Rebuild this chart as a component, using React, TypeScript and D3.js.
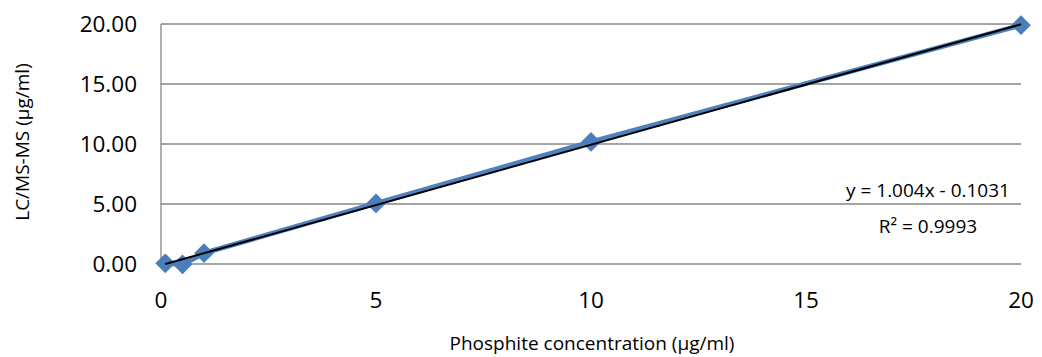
import React from "react";
import * as d3 from "d3";

// Calibration data: phosphite concentration vs LC/MS-MS measurement
const concentrations = [0.1, 0.5, 1, 5, 10, 20];
const measured = [0.06, -0.03, 0.9, 5.05, 10.17, 19.9];
const xTicks = [0, 5, 10, 15, 20];
const yTicks = [0, 5, 10, 15, 20];
const slope = 1.004;
const intercept = -0.1031;
const rSquared = "0.9993";

const W = 1042;
const H = 357;
const FONT = "'Open Sans', 'Noto Sans', sans-serif";

export default function App() {
  const x = d3.scaleLinear().domain([0, 20]).range([161, 1021]);
  const y = d3.scaleLinear().domain([0, 20]).range([264, 24]);

  const pts = concentrations.map((c, i) => [c, measured[i]] as [number, number]);
  const line = d3
    .line<[number, number]>()
    .x((d) => x(d[0]))
    .y((d) => y(d[1]));

  const xMin = d3.min(concentrations)!;
  const xMax = d3.max(concentrations)!;
  const trend: [number, number][] = [
    [xMin, slope * xMin + intercept],
    [xMax, slope * xMax + intercept],
  ];

  // diamond marker: a square turned by 45°
  const diamond = d3.symbol().type(d3.symbolSquare).size(196)();

  return (
    <svg
      width={W}
      height={H}
      style={{ position: "absolute", left: 0, top: 0, background: "#fff" }}
      fontFamily={FONT}
    >
      {/* horizontal gridlines */}
      {yTicks.map((t) => (
        <line
          key={"g" + t}
          x1={x(0)}
          x2={x(20)}
          y1={y(t)}
          y2={y(t)}
          stroke="#868686"
          strokeWidth={1.3}
        />
      ))}
      {/* vertical axis line */}
      <line x1={x(0)} x2={x(0)} y1={y(0)} y2={y(20)} stroke="#868686" strokeWidth={1.3} />

      {/* y tick labels */}
      {yTicks.map((t) => (
        <text
          key={"yt" + t}
          x={137}
          y={y(t)}
          dy="0.36em"
          textAnchor="end"
          fontSize={22.5}
          fill="#000"
        >
          {d3.format(".2f")(t)}
        </text>
      ))}
      {/* x tick labels */}
      {xTicks.map((t) => (
        <text
          key={"xt" + t}
          x={x(t)}
          y={300}
          dy="0.36em"
          textAnchor="middle"
          fontSize={22.5}
          fill="#000"
        >
          {t}
        </text>
      ))}

      {/* data series */}
      <path d={line(pts)!} fill="none" stroke="#4F81BD" strokeWidth={5} />
      {pts.map((p, i) => (
        <path
          key={"m" + i}
          d={diamond!}
          transform={`translate(${x(p[0])},${y(p[1])}) rotate(45)`}
          fill="#4A7EBB"
        />
      ))}

      {/* linear trendline */}
      <path d={line(trend)!} fill="none" stroke="#000" strokeWidth={2} />

      {/* trendline equation */}
      <text x={928} y={190} dy="0.36em" textAnchor="middle" fontSize={19} fill="#000">
        {`y = ${slope}x - ${Math.abs(intercept)}`}
      </text>
      <text x={928} y={226} dy="0.36em" textAnchor="middle" fontSize={19} fill="#000">
        {`R² = ${rSquared}`}
      </text>

      {/* axis titles */}
      <text
        x={592}
        y={343}
        dy="0.36em"
        textAnchor="middle"
        fontSize={19}
        fill="#000"
      >
        Phosphite concentration (µg/ml)
      </text>
      <text
        transform={`translate(22,142) rotate(-90)`}
        dy="0.36em"
        textAnchor="middle"
        fontSize={19}
        fill="#000"
      >
        LC/MS-MS (µg/ml)
      </text>
    </svg>
  );
}
